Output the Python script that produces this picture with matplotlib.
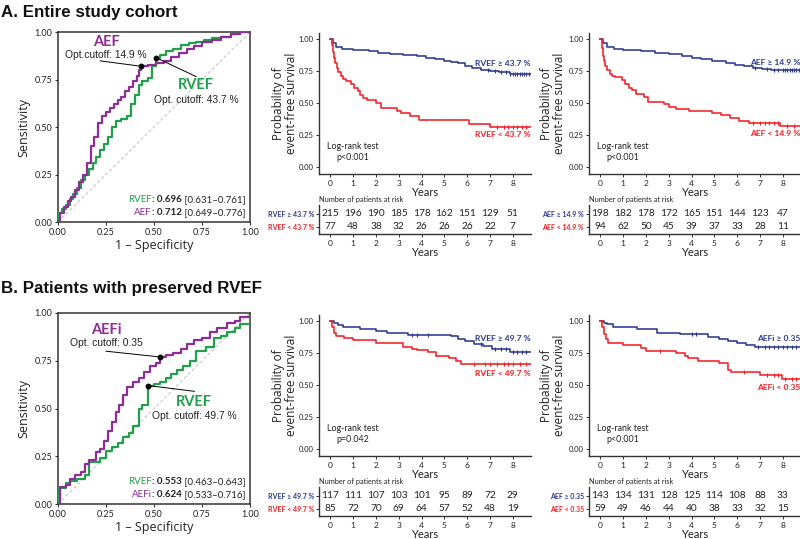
import numpy as np
import matplotlib
matplotlib.use("Agg")
import matplotlib.pyplot as plt

plt.rcParams['font.family'] = ['Lato', 'DejaVu Sans']

BLUE = '#2B3990'
RED = '#F41E24'
GREEN = '#21A04B'
PURPLE = '#8E2C98'
TXT = '#222222'

# ---------------- ROC data ----------------
rocA_rvef_fpr = [0, 0, 0.02, 0.04, 0.06, 0.08, 0.10, 0.12, 0.14, 0.16, 0.18, 0.20, 0.22, 0.24, 0.26, 0.28, 0.30, 0.33, 0.36, 0.38, 0.40, 0.42, 0.44, 0.47, 0.49, 0.51, 0.53, 0.56, 0.60, 0.64, 0.68, 0.72, 0.76, 0.80, 0.85, 0.90, 0.95, 1.0]
rocA_rvef_tpr = [0, 0.05, 0.07, 0.09, 0.12, 0.15, 0.18, 0.22, 0.25, 0.28, 0.31, 0.34, 0.38, 0.41, 0.45, 0.50, 0.53, 0.54, 0.56, 0.62, 0.67, 0.72, 0.74, 0.76, 0.82, 0.865, 0.88, 0.90, 0.91, 0.93, 0.94, 0.95, 0.96, 0.97, 0.975, 0.99, 1.0, 1.0]
rocA_aef_fpr = [0, 0.01, 0.03, 0.05, 0.07, 0.09, 0.11, 0.13, 0.15, 0.17, 0.19, 0.21, 0.23, 0.25, 0.27, 0.29, 0.31, 0.33, 0.35, 0.37, 0.39, 0.41, 0.42, 0.43, 0.47, 0.51, 0.55, 0.59, 0.63, 0.67, 0.71, 0.75, 0.80, 0.85, 0.90, 0.95, 1.0]
rocA_aef_tpr = [0, 0.05, 0.08, 0.11, 0.13, 0.17, 0.21, 0.25, 0.31, 0.40, 0.45, 0.52, 0.56, 0.58, 0.60, 0.62, 0.64, 0.66, 0.69, 0.71, 0.74, 0.77, 0.80, 0.82, 0.825, 0.835, 0.85, 0.87, 0.89, 0.91, 0.925, 0.95, 0.96, 0.975, 0.99, 1.0, 1.0]
rocA_cut_aef = (0.43, 0.82)
rocA_cut_rvef = (0.51, 0.865)

rocB_rvef_fpr = [0, 0, 0.04, 0.06, 0.10, 0.14, 0.16, 0.22, 0.25, 0.28, 0.31, 0.34, 0.37, 0.39, 0.42, 0.44, 0.47, 0.47, 0.50, 0.53, 0.56, 0.59, 0.62, 0.65, 0.69, 0.72, 0.77, 0.81, 0.85, 0.88, 0.92, 0.95, 1.0, 1.0]
rocB_rvef_tpr = [0, 0.085, 0.11, 0.12, 0.13, 0.15, 0.22, 0.24, 0.28, 0.30, 0.32, 0.35, 0.37, 0.41, 0.50, 0.52, 0.53, 0.62, 0.63, 0.64, 0.66, 0.68, 0.70, 0.72, 0.75, 0.80, 0.82, 0.87, 0.88, 0.90, 0.92, 0.94, 0.965, 1.0]
rocB_aefi_fpr = [0, 0.01, 0.04, 0.06, 0.09, 0.12, 0.14, 0.16, 0.20, 0.22, 0.24, 0.26, 0.28, 0.30, 0.32, 0.34, 0.36, 0.39, 0.42, 0.45, 0.48, 0.51, 0.53, 0.56, 0.60, 0.64, 0.67, 0.71, 0.75, 0.79, 0.83, 0.88, 0.92, 0.95, 1.0]
rocB_aefi_tpr = [0, 0.09, 0.10, 0.13, 0.15, 0.17, 0.21, 0.23, 0.27, 0.29, 0.33, 0.38, 0.43, 0.48, 0.52, 0.57, 0.61, 0.64, 0.66, 0.69, 0.72, 0.74, 0.77, 0.78, 0.79, 0.81, 0.84, 0.86, 0.87, 0.90, 0.92, 0.95, 0.96, 0.98, 1.0]
rocB_cut_aefi = (0.53, 0.77)
rocB_cut_rvef = (0.47, 0.62)

roc_ticks = [0, 0.25, 0.5, 0.75, 1.0]

# ---------------- KM data ----------------
A1_hi_t = [0, 0.1, 0.25, 0.5, 1.0, 1.7, 2.1, 2.6, 3.2, 3.8, 4.2, 4.6, 5.0, 5.3, 5.6, 5.9, 6.2, 6.6, 7.0, 7.4, 7.9, 8.8]
A1_hi_s = [1.0, 0.97, 0.94, 0.925, 0.915, 0.905, 0.89, 0.88, 0.875, 0.865, 0.85, 0.84, 0.83, 0.82, 0.81, 0.79, 0.775, 0.76, 0.75, 0.74, 0.73, 0.73]
A1_lo_t = [0, 0.05, 0.1, 0.15, 0.2, 0.27, 0.35, 0.45, 0.55, 0.7, 0.9, 1.05, 1.2, 1.3, 1.45, 1.6, 2.0, 2.2, 2.9, 3.1, 3.5, 3.9, 6.1, 7.0, 8.8]
A1_lo_s = [1.0, 0.95, 0.90, 0.85, 0.81, 0.77, 0.74, 0.71, 0.69, 0.67, 0.65, 0.62, 0.59, 0.56, 0.54, 0.52, 0.50, 0.46, 0.44, 0.42, 0.40, 0.365, 0.335, 0.31, 0.31]
A1_hi_cens = [6.9, 7.2, 7.5, 7.7, 7.9, 8.0, 8.1, 8.2, 8.3, 8.4, 8.5, 8.6, 8.7]
A1_lo_cens = [7.3, 7.6, 7.8, 8.0, 8.2, 8.4, 8.6]

A2_hi_t = [0, 0.1, 0.3, 0.6, 1.0, 1.8, 2.4, 3.0, 3.6, 4.0, 4.4, 4.9, 5.5, 5.9, 6.3, 6.7, 7.1, 7.5, 8.8]
A2_hi_s = [1.0, 0.97, 0.94, 0.925, 0.915, 0.905, 0.89, 0.88, 0.87, 0.855, 0.84, 0.83, 0.815, 0.80, 0.79, 0.775, 0.765, 0.755, 0.755]
A2_lo_t = [0, 0.05, 0.1, 0.15, 0.22, 0.3, 0.4, 0.5, 0.65, 0.95, 1.1, 1.25, 1.4, 1.55, 1.9, 2.1, 2.8, 3.0, 3.3, 3.9, 4.9, 5.3, 5.7, 6.1, 6.5, 7.9, 8.8]
A2_lo_s = [1.0, 0.93, 0.87, 0.83, 0.79, 0.76, 0.73, 0.71, 0.70, 0.68, 0.65, 0.62, 0.60, 0.57, 0.55, 0.505, 0.49, 0.47, 0.455, 0.435, 0.42, 0.405, 0.38, 0.36, 0.345, 0.32, 0.32]
A2_hi_cens = [6.8, 7.3, 7.6, 7.8, 8.0, 8.1, 8.2, 8.3, 8.4, 8.5, 8.6, 8.7]
A2_lo_cens = [6.7, 7.0, 7.2, 7.4, 7.6, 7.8, 8.2, 8.5]

B1_hi_t = [0, 0.15, 0.35, 0.55, 1.3, 2.0, 2.5, 3.4, 5.3, 5.6, 5.9, 6.3, 6.7, 7.1, 7.9, 8.8]
B1_hi_s = [1.0, 0.985, 0.97, 0.95, 0.935, 0.92, 0.905, 0.89, 0.88, 0.86, 0.84, 0.82, 0.805, 0.785, 0.76, 0.76]
B1_lo_t = [0, 0.08, 0.15, 0.25, 0.6, 1.0, 2.0, 3.2, 3.6, 3.8, 4.3, 4.65, 5.2, 5.5, 5.75, 8.8]
B1_lo_s = [1.0, 0.95, 0.91, 0.885, 0.87, 0.85, 0.825, 0.80, 0.785, 0.77, 0.76, 0.725, 0.71, 0.69, 0.665, 0.665]
B1_hi_cens = [3.6, 3.8, 4.3, 6.6, 7.2, 7.5, 7.7, 8.0, 8.2, 8.4, 8.6]
B1_lo_cens = [6.3, 6.8, 7.0, 7.3, 7.6, 7.8, 8.0, 8.3, 8.6]

B2_hi_t = [0, 0.15, 0.3, 0.55, 1.6, 2.5, 3.5, 4.7, 5.2, 5.6, 6.0, 6.4, 6.8, 8.8]
B2_hi_s = [1.0, 0.985, 0.975, 0.955, 0.935, 0.91, 0.895, 0.875, 0.86, 0.84, 0.825, 0.81, 0.795, 0.795]
B2_lo_t = [0, 0.08, 0.15, 0.25, 0.35, 1.0, 1.8, 2.0, 3.3, 3.7, 3.85, 4.3, 5.2, 5.6, 5.75, 7.0, 7.95, 8.8]
B2_lo_s = [1.0, 0.95, 0.9, 0.86, 0.83, 0.815, 0.79, 0.765, 0.75, 0.73, 0.71, 0.69, 0.67, 0.62, 0.60, 0.58, 0.55, 0.55]
B2_hi_cens = [4.0, 4.2, 6.9, 7.2, 7.4, 7.6, 7.8, 8.0, 8.2, 8.4, 8.6]
B2_lo_cens = [2.6, 6.3, 7.3, 7.6, 7.8, 8.1, 8.4, 8.6]

years = [0, 1, 2, 3, 4, 5, 6, 7, 8]
A1_risk_hi = [215, 196, 190, 185, 178, 162, 151, 129, 51]
A1_risk_lo = [77, 48, 38, 32, 26, 26, 26, 22, 7]
A2_risk_hi = [198, 182, 178, 172, 165, 151, 144, 123, 47]
A2_risk_lo = [94, 62, 50, 45, 39, 37, 33, 28, 11]
B1_risk_hi = [117, 111, 107, 103, 101, 95, 89, 72, 29]
B1_risk_lo = [85, 72, 70, 69, 64, 57, 52, 48, 19]
B2_risk_hi = [143, 134, 131, 128, 125, 114, 108, 88, 33]
B2_risk_lo = [59, 49, 46, 44, 40, 38, 33, 32, 15]

km_ticks = [0, 0.25, 0.5, 0.75, 1.0]

fig = plt.figure(figsize=(8, 5.39), dpi=100)


def fpos(left, top, right, bottom):
    return [left / 800, 1 - bottom / 539, (right - left) / 800, (bottom - top) / 539]


def chain_right(ax, x, y, pieces, fs):
    # pieces: list of (text, color, weight); right aligned at (x, y) axes coords
    txt, col, w = pieces[-1]
    t = ax.text(x, y, txt, color=col, fontweight=w, fontsize=fs, ha='right', va='bottom',
                transform=ax.transAxes)
    for txt, col, w in reversed(pieces[:-1]):
        t = ax.annotate(txt, xy=(0, 0), xycoords=t, color=col, fontweight=w, fontsize=fs,
                        ha='right', va='bottom')


def roc_panel(ax, c1, c2, cut1, cut2, name1, name2, cutlab1, cutlab2, auc1, auc2, lab1pos, lab2pos):
    # c1 = purple (AEF), c2 = green (RVEF)
    ax.plot([0, 1], [0, 1], ls=(0, (3, 2)), color='#c8c8c8', lw=0.8, zorder=1)
    ax.plot(c2[0], c2[1], drawstyle='steps-post', color=GREEN, lw=1.6, zorder=3)
    ax.plot(c1[0], c1[1], drawstyle='steps-post', color=PURPLE, lw=1.6, zorder=3)
    ax.set_xlim(0, 1)
    ax.set_ylim(0, 1)
    ax.set_xticks(roc_ticks)
    ax.set_yticks(roc_ticks)
    ax.set_xticklabels([f'{v:.2f}' for v in roc_ticks])
    ax.set_yticklabels([f'{v:.2f}' for v in roc_ticks])
    ax.tick_params(labelsize=6.5, length=2.5, width=0.8, colors='#333333', labelcolor=TXT, pad=1.5)
    for s in ax.spines.values():
        s.set_color('#333333')
        s.set_linewidth(1.1)
    ax.set_xlabel('1 – Specificity', fontsize=9, labelpad=2, color=TXT,
                  family=['Open Sans', 'DejaVu Sans'])
    ax.set_ylabel('Sensitivity', fontsize=9, labelpad=3, color=TXT,
                  family=['Open Sans', 'DejaVu Sans'])
    (n1x, n1y, c1x, c1y, l1x, l1y) = lab1pos
    (n2x, n2y, c2x, c2y, l2x, l2y) = lab2pos
    ax.text(n1x, n1y, name1, color=PURPLE, fontsize=10.5, fontweight='bold', ha='center', va='center')
    ax.text(c1x, c1y, cutlab1, color=TXT, fontsize=7.4, ha='left', va='center',
            family=['Liberation Sans', 'DejaVu Sans'])
    ax.plot([l1x, cut1[0]], [l1y, cut1[1]], color='black', lw=0.7, zorder=4)
    ax.text(n2x, n2y, name2, color=GREEN, fontsize=10.5, fontweight='bold', ha='center', va='center')
    ax.text(c2x, c2y, cutlab2, color=TXT, fontsize=7.4, ha='left', va='center',
            family=['Liberation Sans', 'DejaVu Sans'])
    ax.plot([l2x, cut2[0]], [l2y, cut2[1]], color='black', lw=0.7, zorder=4)
    ax.plot([cut1[0], cut2[0]], [cut1[1], cut2[1]], 'o', color='black', ms=3.2, zorder=5)
    chain_right(ax, 0.975, 0.095, [(auc2[0], GREEN, 'normal'), (': ' + auc2[1], TXT, 'bold'),
                                   (' ' + auc2[2], TXT, 'normal')], 7)
    chain_right(ax, 0.975, 0.025, [(auc1[0], PURPLE, 'normal'), (': ' + auc1[1], TXT, 'bold'),
                                   (' ' + auc1[2], TXT, 'normal')], 7)


def km_panel(ax, rax, hi, lo, hi_c, lo_c, lab_hi, lab_lo, yhi, ylo, pval, risk_hi, risk_lo,
             rlab_hi, rlab_lo, ylab_x):
    for (t, s, cens, col) in [(hi[0], hi[1], hi_c, BLUE), (lo[0], lo[1], lo_c, RED)]:
        ax.step(t, s, where='post', color=col, lw=1.15, zorder=3)
        ts = np.asarray(t)
        ss = np.asarray(s)
        cy = [ss[np.searchsorted(ts, c, side='right') - 1] for c in cens]
        ax.plot(cens, cy, ls='none', marker='|', ms=3, mew=0.8, color=col, zorder=4)
    ax.set_xlim(-0.5, 8.8)
    ax.set_ylim(-0.055, 1.047)
    ax.set_yticks(km_ticks)
    ax.set_yticklabels([f'{v:.2f}' for v in km_ticks])
    ax.set_xticks(years)
    ax.tick_params(labelsize=5.5, length=2.5, width=0.7, colors='#333333', labelcolor=TXT, pad=1.5)
    ax.tick_params(axis='x', labelsize=6, pad=2)
    for s in ['top', 'right']:
        ax.spines[s].set_visible(False)
    for s in ['left', 'bottom']:
        ax.spines[s].set_color('#333333')
        ax.spines[s].set_linewidth(1.0)
    ax.set_xlabel('Years', fontsize=8, labelpad=0, color=TXT)
    ax.text(ylab_x, 0.5, 'Probability of\nevent-free survival', rotation=90, fontsize=8.5,
            ha='center', va='center', transform=ax.transAxes, color=TXT, linespacing=1.0,
            family=['Open Sans', 'DejaVu Sans'])
    xr = ax.get_xlim()[1]
    ax.text(xr - 0.03, yhi, lab_hi, color=BLUE, fontsize=6.1, fontweight='bold', ha='right', va='center')
    ax.text(xr - 0.03, ylo, lab_lo, color=RED, fontsize=6.1, fontweight='bold', ha='right', va='center')
    ax.text(1.0, 0.12, 'Log-rank test\n' + pval, fontsize=6.4, ha='center', va='center',
            multialignment='center', color=TXT, linespacing=1.3)

    # risk table
    rax.set_xlim(-0.5, 8.8)
    rax.set_ylim(-0.54, 1.69)
    for x, v in zip(years, risk_hi):
        rax.text(x, 1, str(v), ha='center', va='center', fontsize=7.3, color=TXT)
    for x, v in zip(years, risk_lo):
        rax.text(x, 0, str(v), ha='center', va='center', fontsize=7.3, color=TXT)
    rax.set_xticks(years)
    rax.set_yticks([1, 0])
    rax.set_yticklabels([rlab_hi, rlab_lo], fontsize=5, fontweight='bold')
    rax.tick_params(axis='y', length=2.5, width=0.7, pad=1, colors='#333333')
    for lbl, col in zip(rax.get_yticklabels(), [BLUE, RED]):
        lbl.set_color(col)
    rax.tick_params(axis='x', labelsize=6, length=2.5, width=0.7, pad=2, colors='#333333', labelcolor=TXT)
    for s in ['top', 'right']:
        rax.spines[s].set_visible(False)
    for s in ['left', 'bottom']:
        rax.spines[s].set_color('#333333')
        rax.spines[s].set_linewidth(1.0)
    rax.set_xlabel('Years', fontsize=8, labelpad=0, color=TXT)
    rax.text(0.0, 1.08, 'Number of patients at risk', transform=rax.transAxes, fontsize=5.3,
             ha='left', va='bottom', color=TXT)


# Titles
fig.text(1 / 800, 1 - 12 / 539, 'A. Entire study cohort', fontsize=12.2, fontweight='bold',
         family=['Liberation Sans', 'DejaVu Sans'], va='center', ha='left', color='#111111')
fig.text(1 / 800, 1 - 289 / 539, 'B. Patients with preserved RVEF', fontsize=12.2, fontweight='bold',
         family=['Liberation Sans', 'DejaVu Sans'], va='center', ha='left', color='#111111')

# ROC A
axA = fig.add_axes(fpos(58, 32, 250, 222))
roc_panel(axA, (rocA_aef_fpr, rocA_aef_tpr), (rocA_rvef_fpr, rocA_rvef_tpr),
          rocA_cut_aef, rocA_cut_rvef, 'AEF', 'RVEF',
          'Opt.cutoff: 14.9 %', 'Opt. cutoff: 43.7 %',
          ('AEF', '0.712', '[0.649–0.776]'), ('RVEF', '0.696', '[0.631–0.761]'),
          (0.25, 0.95, 0.035, 0.88, 0.22, 0.848), (0.72, 0.72, 0.50, 0.64, 0.72, 0.765))

# ROC B
axB = fig.add_axes(fpos(58, 313, 250, 504))
roc_panel(axB, (rocB_aefi_fpr, rocB_aefi_tpr), (rocB_rvef_fpr, rocB_rvef_tpr),
          rocB_cut_aefi, rocB_cut_rvef, 'AEFi', 'RVEF',
          'Opt. cutoff: 0.35', 'Opt. cutoff: 49.7 %',
          ('AEFi', '0.624', '[0.533–0.716]'), ('RVEF', '0.553', '[0.463–0.643]'),
          (0.25, 0.91, 0.06, 0.845, 0.25, 0.80), (0.71, 0.535, 0.49, 0.46, 0.71, 0.59))

# KM panels
km_panel(fig.add_axes(fpos(319, 33, 531, 174)), fig.add_axes(fpos(319, 205, 531, 234)),
         (A1_hi_t, A1_hi_s), (A1_lo_t, A1_lo_s), A1_hi_cens, A1_lo_cens,
         'RVEF ≥ 43.7 %', 'RVEF < 43.7 %', 0.81, 0.25, 'p<0.001',
         A1_risk_hi, A1_risk_lo, 'RVEF ≥ 43.7 %', 'RVEF < 43.7 %', -0.16)
km_panel(fig.add_axes(fpos(589, 33, 801, 174)), fig.add_axes(fpos(589, 205, 801, 234)),
         (A2_hi_t, A2_hi_s), (A2_lo_t, A2_lo_s), A2_hi_cens, A2_lo_cens,
         'AEF ≥ 14.9 %', 'AEF < 14.9 %', 0.82, 0.265, 'p<0.001',
         A2_risk_hi, A2_risk_lo, 'AEF ≥ 14.9 %', 'AEF < 14.9 %', -0.17)
km_panel(fig.add_axes(fpos(319, 315, 531, 456)), fig.add_axes(fpos(319, 487, 531, 516)),
         (B1_hi_t, B1_hi_s), (B1_lo_t, B1_lo_s), B1_hi_cens, B1_lo_cens,
         'RVEF ≥ 49.7 %', 'RVEF < 49.7 %', 0.86, 0.59, 'p=0.042',
         B1_risk_hi, B1_risk_lo, 'RVEF ≥ 49.7 %', 'RVEF < 49.7 %', -0.16)
km_panel(fig.add_axes(fpos(589, 315, 801, 456)), fig.add_axes(fpos(589, 487, 801, 516)),
         (B2_hi_t, B2_hi_s), (B2_lo_t, B2_lo_s), B2_hi_cens, B2_lo_cens,
         'AEFi ≥ 0.35', 'AEFi < 0.35', 0.86, 0.48, 'p<0.001',
         B2_risk_hi, B2_risk_lo, 'AEF ≥ 0.35', 'AEF < 0.35', -0.17)

fig.savefig('out.png', dpi=100)
